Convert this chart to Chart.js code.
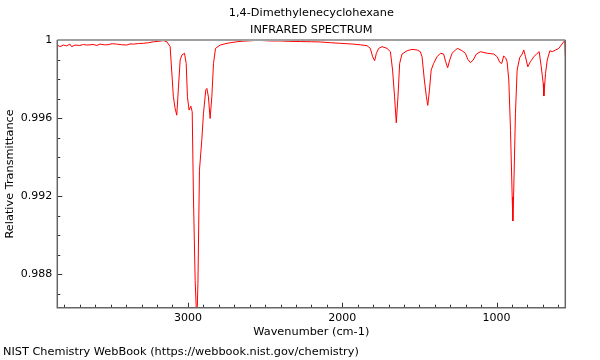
<!DOCTYPE html>
<html>
<head>
<meta charset="utf-8">
<script src="https://cdn.jsdelivr.net/npm/chart.js@4"></script>
<style>
  body { margin: 0; background: #fff; }
  canvas { display: block; }
</style>
</head>
<body>
<canvas id="chart" width="600" height="360"></canvas>
<script>
// spectrum (wavenumber in cm-1, relative transmittance)
const wavenumbers = [
  3846, 3828, 3807, 3785, 3764, 3753, 3731, 3700, 3676, 3655, 3614, 3590, 3569, 3540, 3517, 3490,
  3461, 3430, 3396, 3375, 3353, 3320, 3288, 3255, 3223, 3190, 3159, 3136, 3115, 3094, 3083, 3072,
  3061, 3050, 3039, 3022, 3011, 3003, 2992, 2981, 2972, 2964, 2953, 2942, 2935, 2925, 2910, 2899,
  2884, 2877, 2867, 2856, 2845, 2834, 2821, 2791, 2747, 2683, 2640, 2596, 2555, 2512, 2460, 2402,
  2340, 2272, 2200, 2142, 2075, 2013, 1970, 1928, 1880, 1840, 1818, 1803, 1790, 1779, 1764, 1742,
  1710, 1688, 1674, 1661, 1650, 1639, 1628, 1613, 1580, 1548, 1515, 1494, 1483, 1468, 1455, 1446,
  1435, 1424, 1408, 1386, 1364, 1343, 1330, 1317, 1304, 1288, 1267, 1252, 1224, 1202, 1187, 1170,
  1152, 1131, 1105, 1061, 1018, 996, 980, 967, 954, 941, 932, 921, 910, 899, 895, 889,
  878, 867, 850, 834, 824, 813, 798, 781, 759, 737, 724, 711, 698, 694, 683, 672,
  655, 640, 618, 597, 581, 565, 558, 555
];
const transmittance = [
  0.99974, 0.99966, 0.99974, 0.99970, 0.99979, 0.99966, 0.99974, 0.99972, 0.99977, 0.99974, 0.99977, 0.99972, 0.99979, 0.99975, 0.99976, 0.99981,
  0.99979, 0.99976, 0.99974, 0.99980, 0.99979, 0.99982, 0.99983, 0.99986, 0.99991, 0.99993, 0.99997, 0.99991, 0.99966, 0.99709, 0.99651, 0.99615,
  0.99760, 0.99897, 0.99923, 0.99932, 0.99880, 0.99709, 0.99641, 0.99661, 0.99632, 0.99196, 0.98769, 0.98550, 0.98753, 0.99333, 0.99487, 0.99624,
  0.99744, 0.99752, 0.99709, 0.99598, 0.99709, 0.99880, 0.99957, 0.99974, 0.99983, 0.99991, 0.99994, 0.99996, 0.99998, 0.99997, 0.99995, 0.99995,
  0.99993, 0.99992, 0.99991, 0.99990, 0.99986, 0.99983, 0.99981, 0.99979, 0.99975, 0.99971, 0.99957, 0.99914, 0.99894, 0.99932, 0.99957, 0.99966,
  0.99957, 0.99940, 0.99846, 0.99709, 0.99576, 0.99709, 0.99880, 0.99928, 0.99945, 0.99952, 0.99949, 0.99940, 0.99914, 0.99795, 0.99709, 0.99665,
  0.99743, 0.99846, 0.99880, 0.99914, 0.99932, 0.99928, 0.99889, 0.99858, 0.99897, 0.99932, 0.99949, 0.99957, 0.99945, 0.99932, 0.99901, 0.99884,
  0.99897, 0.99928, 0.99940, 0.99932, 0.99928, 0.99914, 0.99886, 0.99880, 0.99918, 0.99908, 0.99889, 0.99795, 0.99538, 0.99196, 0.99073, 0.99231,
  0.99624, 0.99846, 0.99911, 0.99928, 0.99949, 0.99914, 0.99863, 0.99889, 0.99914, 0.99932, 0.99940, 0.99863, 0.99778, 0.99713, 0.99829, 0.99897,
  0.99945, 0.99940, 0.99949, 0.99957, 0.99974, 0.99991, 0.99999, 0.99920
];

const xTickLabels = [3000, 2000, 1000];
const yTickLabels = [0.988, 0.992, 0.996, 1];

const xMin = 555;
const xMax = 3846;
const yMin = 0.98629;
const yMax = 1.0;

const titleLines = ['1,4-Dimethylenecyclohexane', 'INFRARED SPECTRUM'];
const footer = 'NIST Chemistry WebBook (https://webbook.nist.gov/chemistry)';

const points = wavenumbers.map((w, i) => ({ x: w, y: transmittance[i] }));

// frame, inward tick marks, title over the plot and the footer line
const framePlugin = {
  id: 'frame',
  afterDatasetsDraw(chart) {
    const { ctx, chartArea: a, scales } = chart;
    const xs = scales.x;
    const ys = scales.y;
    ctx.save();

    ctx.strokeStyle = '#333';
    ctx.lineWidth = 1;
    ctx.beginPath();
    for (let w = 600; w <= 3800; w += 100) {
      const px = Math.round(xs.getPixelForValue(w)) + 0.5;
      const len = w % 1000 === 0 ? 5 : 3;
      ctx.moveTo(px, a.bottom);
      ctx.lineTo(px, a.bottom - len);
    }
    for (let k = 987; k <= 999; k++) {
      const py = Math.round(ys.getPixelForValue(k / 1000)) + 0.5;
      const len = k % 4 === 0 ? 5 : 3;
      ctx.moveTo(a.left, py);
      ctx.lineTo(a.left + len, py);
    }
    ctx.stroke();

    // top border
    ctx.strokeStyle = '#a0a0a0';
    ctx.lineWidth = 2;
    ctx.beginPath();
    ctx.moveTo(a.left, a.top);
    ctx.lineTo(a.right, a.top);
    ctx.stroke();

    // left, bottom, right
    ctx.strokeStyle = '#666';
    ctx.lineWidth = 1.5;
    ctx.beginPath();
    ctx.moveTo(a.left, a.top);
    ctx.lineTo(a.left, a.bottom);
    ctx.lineTo(a.right, a.bottom);
    ctx.lineTo(a.right, a.top);
    ctx.stroke();

    ctx.fillStyle = '#000';
    ctx.font = '11.3px "DejaVu Sans"';
    ctx.textBaseline = 'middle';
    ctx.textAlign = 'center';
    const cx = (a.left + a.right) / 2;
    ctx.fillText(titleLines[0], cx, 13);
    ctx.fillText(titleLines[1], cx, 30);

    ctx.textAlign = 'left';
    ctx.fillText(footer, 3, 352);
    ctx.restore();
  }
};

new Chart(document.getElementById('chart'), {
  type: 'line',
  data: {
    datasets: [
      {
        label: 'IR',
        data: points,
        borderColor: '#ff0000',
        borderWidth: 1,
        pointRadius: 0,
        tension: 0,
        fill: false,
      },
    ],
  },
  options: {
    responsive: false,
    animation: false,
    events: [],
    layout: {
      padding: { left: 0, right: 34.7, top: 40, bottom: 18.3 },
    },
    plugins: {
      legend: { display: false },
      tooltip: { enabled: false },
      title: { display: false },
    },
    scales: {
      x: {
        type: 'linear',
        reverse: true,
        min: xMin,
        max: xMax,
        afterBuildTicks: (scale) => {
          scale.ticks = xTickLabels.map((v) => ({ value: v }));
        },
        afterFit: (scale) => {
          scale.height = 34;
          scale.paddingLeft = 0;
          scale.paddingRight = 0;
        },
        grid: { display: false, drawTicks: false },
        border: { display: false },
        ticks: {
          color: '#000',
          padding: 4,
          maxRotation: 0,
          font: { family: 'DejaVu Sans', size: 11 },
          callback: (v) => String(v),
        },
        title: {
          display: true,
          text: 'Wavenumber (cm-1)',
          color: '#000',
          font: { family: 'DejaVu Sans', size: 11.3 },
          padding: { top: 0, bottom: 3 },
        },
      },
      y: {
        min: yMin,
        max: yMax,
        afterBuildTicks: (scale) => {
          scale.ticks = yTickLabels.map((v) => ({ value: v }));
        },
        afterFit: (scale) => {
          scale.width = 57.3;
          scale.paddingTop = 0;
          scale.paddingBottom = 0;
        },
        grid: { display: false, drawTicks: false },
        border: { display: false },
        ticks: {
          color: '#000',
          padding: 5,
          font: { family: 'DejaVu Sans', size: 11 },
          callback: (v) => (v === 1 ? '1' : v.toFixed(3)),
        },
        title: {
          display: true,
          text: 'Relative Transmittance',
          color: '#000',
          font: { family: 'DejaVu Sans', size: 11.3 },
          padding: { top: 3, bottom: 0 },
        },
      },
    },
  },
  plugins: [framePlugin],
});
</script>
</body>
</html>
